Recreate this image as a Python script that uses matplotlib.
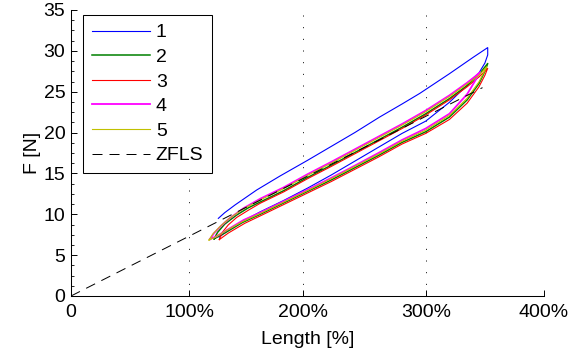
import matplotlib
matplotlib.use("Agg")
import matplotlib.pyplot as plt
from matplotlib.ticker import MultipleLocator

plt.rcParams['font.family'] = ['Liberation Sans', 'DejaVu Sans']

# ---------------- data ----------------
labels = ["1", "2", "3", "4", "5", "ZFLS"]
colors = ["#0000ff", "#008000", "#ff0000", "#ff00ff", "#c0c000"]
widths = [0.8, 1.1, 0.8, 1.3, 0.8]

# series 1 (blue)
s1_up_x = [124.6, 130, 138.7, 157, 176.7, 200, 220, 240, 261, 280, 295, 320, 340, 352.4]
s1_up_y = [9.5, 10.2, 11.14, 12.97, 14.68, 16.6, 18.3, 20.0, 21.9, 23.5, 24.8, 27.2, 29.2, 30.4]
s1_lo_x = [352.4, 350, 345, 335, 320, 300, 280, 260, 240, 220, 200, 180, 160, 147, 133, 125.4]
s1_lo_y = [29.5, 28.5, 27.3, 25.8, 23.7, 21.4, 19.9, 18.2, 16.5, 14.8, 13.2, 11.7, 10.3, 9.3, 8.1, 7.2]

# series 2 (green)
s2_up_x = [121, 124, 130, 140, 150, 160, 180, 200, 220, 240, 260, 280, 300, 320, 335, 345, 352.4]
s2_up_y = [7.0, 7.8, 8.8, 9.9, 10.8, 11.5, 12.9, 14.5, 16.0, 17.55, 19.1, 20.65, 22.3, 24.15, 25.75, 27.1, 28.45]
s2_lo_x = [352.4, 350, 345, 335, 320, 300, 280, 260, 240, 220, 200, 180, 160, 145, 130, 121]
s2_lo_y = [28.45, 27.5, 26.0, 24.0, 21.9, 20.1, 18.8, 17.2, 15.7, 14.2, 12.8, 11.4, 10.0, 9.0, 7.7, 7.0]

# series 3 (red)
s3_up_x = [125.4, 128, 133, 140, 150, 160, 180, 200, 220, 240, 260, 280, 300, 320, 335, 345, 352.4]
s3_up_y = [6.9, 7.8, 8.7, 9.6, 10.5, 11.35, 12.75, 14.35, 15.85, 17.4, 18.95, 20.5, 22.15, 24.0, 25.6, 26.8, 27.86]
s3_lo_x = [352.4, 350, 345, 335, 320, 300, 280, 260, 240, 220, 200, 180, 160, 147, 133, 125.4]
s3_lo_y = [27.86, 27.0, 25.6, 23.6, 21.6, 19.9, 18.6, 17.0, 15.5, 14.0, 12.6, 11.2, 9.8, 8.9, 7.7, 6.9]

# series 4 (magenta)
s4_up_x = [117.5, 121, 127, 134, 146, 160, 180, 200, 220, 240, 260, 280, 300, 320, 335, 342, 346]
s4_up_y = [6.95, 7.7, 8.6, 9.5, 10.75, 11.9, 13.3, 14.9, 16.4, 17.95, 19.5, 21.05, 22.7, 24.55, 26.1, 26.9, 27.4]
s4_lo_x = [346, 342, 335, 320, 300, 280, 260, 240, 220, 200, 180, 160, 146, 131, 123, 117.5]
s4_lo_y = [27.4, 26.4, 24.7, 22.3, 20.5, 19.1, 17.5, 15.95, 14.45, 13.0, 11.6, 10.2, 9.3, 8.0, 7.3, 6.95]

# series 5 (yellow)
s5_up_x = [116.7, 120, 126, 133, 145, 160, 180, 200, 220, 240, 260, 280, 300, 320, 335, 345, 351.6]
s5_up_y = [6.85, 7.6, 8.5, 9.4, 10.6, 11.75, 13.15, 14.75, 16.25, 17.8, 19.35, 20.9, 22.55, 24.4, 25.95, 27.0, 28.05]
s5_lo_x = [351.6, 350, 345, 335, 320, 300, 280, 260, 240, 220, 200, 180, 160, 145, 130, 122, 116.7]
s5_lo_y = [28.05, 27.6, 26.2, 24.2, 22.1, 20.3, 18.95, 17.35, 15.85, 14.35, 12.9, 11.5, 10.1, 9.1, 7.9, 7.2, 6.85]

# ZFLS reference line
zfls_x = [0, 348]
zfls_y = [0, 25.5]

xtick_pos = [0, 100, 196, 300, 400]
xtick_labels = ["0", "100%", "200%", "300%", "400%"]
yticks = [0, 5, 10, 15, 20, 25, 30, 35]

series = [
    (s1_up_x + s1_lo_x, s1_up_y + s1_lo_y),
    (s2_up_x + s2_lo_x, s2_up_y + s2_lo_y),
    (s3_up_x + s3_lo_x, s3_up_y + s3_lo_y),
    (s4_up_x + s4_lo_x, s4_up_y + s4_lo_y),
    (s5_up_x + s5_lo_x, s5_up_y + s5_lo_y),
]

# ---------------- plot ----------------
fs = 14
fig = plt.figure(figsize=(5.75, 3.58), dpi=100)
ax = fig.add_axes([71/575, 1 - 296/358, 473/575, 286/358])

for (x, y), c, lw, lab in zip(series, colors, widths, labels):
    ax.plot(x, y, color=c, lw=lw, label=lab)
ax.plot(zfls_x, zfls_y, color="black", lw=0.72, linestyle=(0, (10, 7)), label=labels[5])

ax.set_xlim(0, 400)
ax.set_ylim(0, 35)
ax.set_xticks(xtick_pos)
ax.set_xticklabels(xtick_labels)
ax.set_yticks(yticks)
ax.yaxis.set_minor_locator(MultipleLocator(1.25))
ax.tick_params(axis="both", which="major", direction="in", length=4, width=0.7,
               labelsize=fs)
ax.tick_params(axis="x", which="major", pad=6)
ax.tick_params(axis="y", which="major", pad=4)
ax.tick_params(axis="y", which="minor", direction="in", length=2.2, width=0.6)
ax.tick_params(axis="x", which="minor", bottom=False)

for s in ["top", "right"]:
    ax.spines[s].set_visible(False)
for s in ["left", "bottom"]:
    ax.spines[s].set_linewidth(0.75)

ax.xaxis.grid(True, color="black", linestyle=(0, (1, 11)), linewidth=0.7)
ax.set_axisbelow(True)

ax.set_xlabel("Length [%]", fontsize=fs, labelpad=7)
ax.set_ylabel("F [N]", fontsize=fs, labelpad=2)

leg = ax.legend(loc="upper left", bbox_to_anchor=(0.025, 0.9825), borderaxespad=0,
                fontsize=fs, handlelength=3.0, handletextpad=0.3, labelspacing=0.36,
                borderpad=0.45, fancybox=False, framealpha=1, edgecolor="black")
leg.get_frame().set_linewidth(0.75)

fig.savefig("out.png", dpi=100)
